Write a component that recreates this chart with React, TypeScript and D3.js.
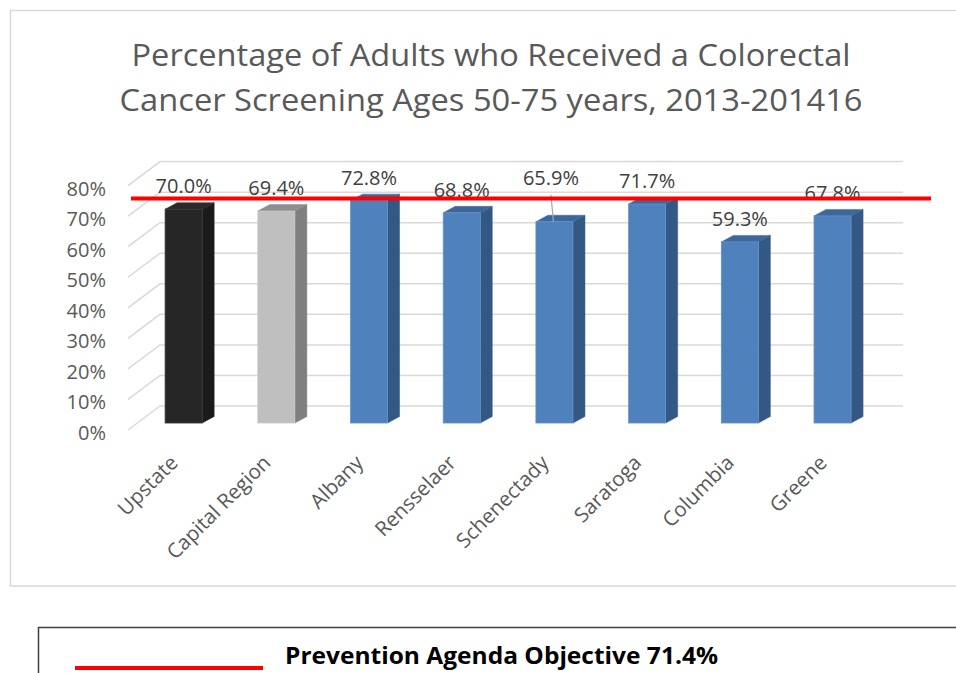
import React from "react";
import * as d3 from "d3";

const categories = ["Upstate", "Capital Region", "Albany", "Rensselaer", "Schenectady", "Saratoga", "Columbia", "Greene"];
const values = [70.0, 69.4, 72.8, 68.8, 65.9, 71.7, 59.3, 67.8];
const kinds = ["state", "region", "county", "county", "county", "county", "county", "county"];
const yTicks = [0, 10, 20, 30, 40, 50, 60, 70, 80];
const objective = 71.4;
const titleLines = ["Percentage of Adults who Received a Colorectal", "Cancer Screening Ages 50-75 years, 2013-201416"];
const legendText = "Prevention Agenda Objective 71.4%";

const W = 956, H = 673;
const FX = 128, FY = 430; // front-left floor corner
const DX = 32, DY = -24; // full depth vector
const BAR_D = 0.29; // bar plane depth fraction
const SIDE_X = 12, SIDE_Y = -6.5;
const WALL_R = 903;
const PLANE_W = 741.6;

const colors: Record<string, { front: string; side: string; top: string; edge: string }> = {
  state: { front: "#262626", side: "#1b1b1b", top: "#2a2a2a", edge: "#3a3a3a" },
  region: { front: "#bfbfbf", side: "#7f7f7f", top: "#8e8e8e", edge: "#c9c9c9" },
  county: { front: "#4f81bd", side: "#345884", top: "#3e6799", edge: "#6a93c6" },
};

const FONT = "'Open Sans', 'Noto Sans', sans-serif";

export default function App() {
  const h = d3.scaleLinear().domain([0, 80]).range([0, 244.4]);
  const bx0 = FX + BAR_D * DX;
  const by0 = FY + BAR_D * DY;
  const x = d3.scaleBand<string>().domain(categories).range([bx0, bx0 + PLANE_W]).paddingInner(0.6).paddingOuter(0.3);
  const bw = x.bandwidth();
  const objY = by0 - h(objective) + SIDE_Y;

  return (
    <svg width={W} height={H} style={{ position: "absolute", left: 0, top: 0, background: "#fff" }}>
      <rect x={10.5} y={10.5} width={980} height={575.5} fill="#fff" stroke="#d9d9d9" strokeWidth={1.5} />
      {titleLines.map((t, i) => (
        <text key={t} x={491} y={66 + i * 45} textAnchor="middle" fontFamily={FONT} fontSize={31} fill="#595959"
          textLength={i === 0 ? 719 : 743} lengthAdjust="spacingAndGlyphs">{t}</text>
      ))}
      {/* gridlines */}
      {yTicks.map((t) => {
        const yf = FY - h(t);
        return (
          <g key={t}>
            <path d={`M${FX},${yf}L${FX + DX},${yf + DY}L${WALL_R},${yf + DY}`} fill="none" stroke="#d9d9d9" strokeWidth={1.5} />
            <text x={106} y={yf + 10} textAnchor="end" fontFamily={FONT} fontSize={20} fill="#595959">{t}%</text>
          </g>
        );
      })}
      {/* bars */}
      {categories.map((c, i) => {
        const col = colors[kinds[i]];
        const x0 = x(c)!;
        const x1 = x0 + bw;
        const yt = by0 - h(values[i]);
        const yb = by0;
        return (
          <g key={c}>
            <path d={`M${x1},${yb}L${x1 + SIDE_X},${yb + SIDE_Y}L${x1 + SIDE_X},${yt + SIDE_Y}L${x1},${yt}Z`} fill={col.side} stroke={col.side} strokeWidth={0.5} />
            <path d={`M${x0},${yt}L${x0 + SIDE_X},${yt + SIDE_Y}L${x1 + SIDE_X},${yt + SIDE_Y}L${x1},${yt}Z`} fill={col.top} stroke={col.top} strokeWidth={0.5} />
            <rect x={x0} y={yt} width={bw} height={yb - yt} fill={col.front} stroke={col.edge} strokeWidth={0.75} />
          </g>
        );
      })}
      {/* data labels */}
      {categories.map((c, i) => {
        const cx = x(c)! + bw / 2;
        const yt = by0 - h(values[i]);
        const moved = c === "Schenectady";
        const lx = moved ? cx - 3.5 : cx;
        const ly = moved ? yt - 37 : yt - 16;
        return (
          <g key={c}>
            {moved && <line x1={lx} y1={ly + 10} x2={cx - 1} y2={yt} stroke="#a6a6a6" strokeWidth={1.2} />}
            <text x={lx} y={ly} textAnchor="middle" fontFamily={FONT} fontSize={20} fill="#404040">{values[i].toFixed(1)}%</text>
          </g>
        );
      })}
      {/* objective line */}
      <line x1={FX + 3} x2={931} y1={objY} y2={objY} stroke="#ff0000" strokeWidth={4} />
      {/* x labels */}
      {categories.map((c) => {
        const cx = x(c)! + bw / 2 - 4.5;
        return (
          <text key={c} transform={`translate(${cx},464) rotate(-45)`} textAnchor="end" fontFamily={FONT} fontSize={20.5} fill="#595959">{c}</text>
        );
      })}
      {/* legend */}
      <rect x={38.5} y={627.5} width={980} height={100} fill="#fff" stroke="#404040" strokeWidth={1.5} />
      <line x1={75} x2={263} y1={668} y2={668} stroke="#ff0000" strokeWidth={4} />
      <text x={285} y={664} fontFamily={FONT} fontWeight={700} fontSize={23} fill="#000" textLength={433} lengthAdjust="spacingAndGlyphs">{legendText}</text>
    </svg>
  );
}
